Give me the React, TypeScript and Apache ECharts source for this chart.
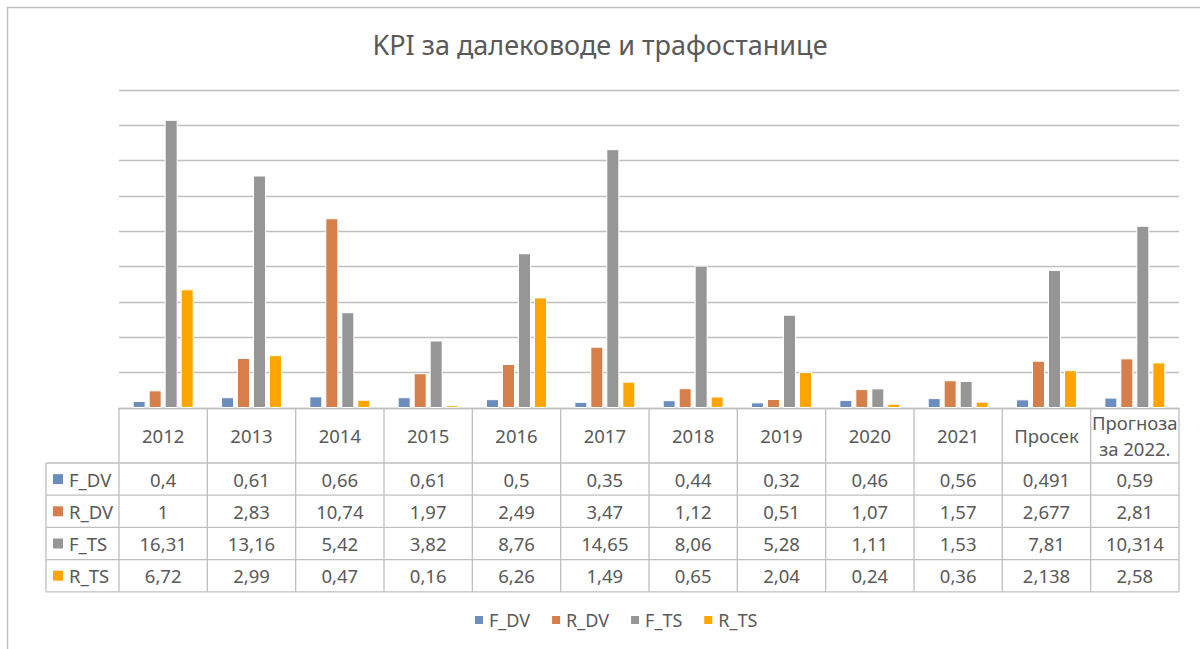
import React, { useEffect, useRef } from "react";
import * as echarts from "echarts";

const title = "KPI за далеководе и трафостанице";
const categories = ["2012", "2013", "2014", "2015", "2016", "2017", "2018", "2019", "2020", "2021", "Просек", "Прогноза\nза 2022."];
const seriesNames = ["F_DV", "R_DV", "F_TS", "R_TS"];
const F_DV = [0.4, 0.61, 0.66, 0.61, 0.5, 0.35, 0.44, 0.32, 0.46, 0.56, 0.491, 0.59];
const R_DV = [1, 2.83, 10.74, 1.97, 2.49, 3.47, 1.12, 0.51, 1.07, 1.57, 2.677, 2.81];
const F_TS = [16.31, 13.16, 5.42, 3.82, 8.76, 14.65, 8.06, 5.28, 1.11, 1.53, 7.81, 10.314];
const R_TS = [6.72, 2.99, 0.47, 0.16, 6.26, 1.49, 0.65, 2.04, 0.24, 0.36, 2.138, 2.58];
const colors = ["#6B8EBF", "#D67F4B", "#969696", "#FFA500"];

const W = 1200;
const H = 649;
const PLOT_L = 119;
const PLOT_R = 1179;
const PLOT_T = 90;
const PLOT_B = 408;
const FONT = "'Noto Sans', 'Liberation Sans', sans-serif";
const TXT = "#595959";
const LINE = "#bfbfbf";

export default function App() {
  const ref = useRef<HTMLDivElement>(null);
  useEffect(() => {
    if (!ref.current) return;
    const chart = echarts.init(ref.current, null, { renderer: "svg" });
    const data = [F_DV, R_DV, F_TS, R_TS];
    const n = categories.length;
    const cw = (PLOT_R - PLOT_L) / n;
    const headerB = 463;
    const rowH = 32.2;
    const tableL = 46;
    const tableB = headerB + rowH * 4;

    const g: any[] = [];
    g.push({ type: "rect", shape: { x: 7.5, y: 7.5, width: 1300, height: 800 }, style: { fill: "none", stroke: LINE, lineWidth: 1.5 }, silent: true });
    for (let i = 0; i <= n; i++) {
      const x = PLOT_L + i * cw;
      g.push({ type: "line", shape: { x1: x, y1: PLOT_B, x2: x, y2: tableB }, style: { stroke: LINE, lineWidth: 1.3 }, silent: true });
    }
    g.push({ type: "line", shape: { x1: tableL, y1: headerB, x2: tableL, y2: tableB }, style: { stroke: LINE, lineWidth: 1.3 }, silent: true });
    for (let r = 0; r <= 4; r++) {
      const y = headerB + r * rowH;
      g.push({ type: "line", shape: { x1: tableL, y1: y, x2: PLOT_R, y2: y }, style: { stroke: LINE, lineWidth: 1.3 }, silent: true });
    }
    for (let r = 0; r < 4; r++) {
      const cy = headerB + r * rowH + rowH / 2;
      g.push({ type: "rect", shape: { x: 53, y: cy - 5, width: 10, height: 10 }, style: { fill: colors[r] }, silent: true });
      g.push({ type: "text", x: 69, y: cy, style: { text: seriesNames[r], fill: TXT, font: `18.5px ${FONT}`, textAlign: "left", textVerticalAlign: "middle" }, silent: true });
      for (let c = 0; c < n; c++) {
        g.push({
          type: "text",
          x: PLOT_L + c * cw + cw / 2,
          y: cy,
          style: { text: String(data[r][c]).replace(".", ","), fill: TXT, font: `18.5px ${FONT}`, textAlign: "center", textVerticalAlign: "middle" },
          silent: true,
        });
      }
    }

    chart.setOption({
      animation: false,
      title: {
        text: title,
        left: "center",
        top: 26,
        textStyle: { color: TXT, fontSize: 27, fontWeight: "normal", fontFamily: FONT },
      },
      grid: { left: PLOT_L, right: W - PLOT_R, top: PLOT_T, bottom: H - PLOT_B },
      legend: {
        data: seriesNames,
        bottom: 15,
        left: 468,
        icon: "rect",
        itemWidth: 10,
        itemHeight: 10,
        itemGap: 20,
        textStyle: { color: TXT, fontSize: 18, fontFamily: FONT },
      },
      xAxis: {
        type: "category",
        data: categories,
        axisLine: { show: true, lineStyle: { color: LINE, width: 1.3 } },
        axisTick: { show: false },
        axisLabel: {
          interval: 0,
          margin: 27.5,
          verticalAlign: "middle",
          color: TXT,
          fontSize: 18.5,
          lineHeight: 26,
          fontFamily: FONT,
        },
      },
      yAxis: {
        type: "value",
        min: 0,
        max: 18,
        interval: 2,
        axisLabel: { show: false },
        axisLine: { show: false },
        axisTick: { show: false },
        splitLine: { lineStyle: { color: LINE, width: 1.3 } },
      },
      series: seriesNames.map((name, i) => ({
        name,
        type: "bar",
        data: data[i],
        barWidth: 13,
        barGap: "23%",
        itemStyle: { color: colors[i], borderColor: "#ffffff", borderWidth: 1 },
      })),
      graphic: g,
    });
    return () => chart.dispose();
  }, []);
  return <div ref={ref} style={{ position: "fixed", left: 0, top: 0, width: W, height: H, background: "#fff" }} />;
}
